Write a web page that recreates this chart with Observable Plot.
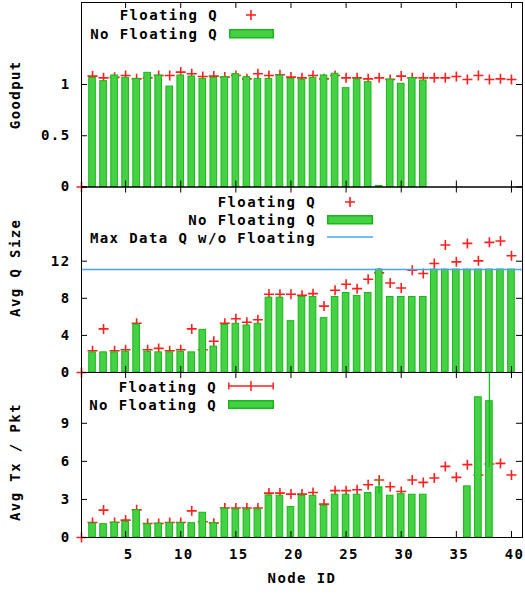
<!DOCTYPE html>
<html><head><meta charset="utf-8">
<script src="https://cdn.jsdelivr.net/npm/d3@7"></script>
<script src="https://cdn.jsdelivr.net/npm/@observablehq/plot@0.6"></script>
<style>
html,body{margin:0;padding:0;background:#fff;}
#chart{position:relative;width:525px;height:594px;overflow:hidden;font-family:"DejaVu Sans Mono",monospace;font-weight:bold;font-size:14px;letter-spacing:1.4px;color:#000;}
#chart svg.p{position:absolute;left:0;}
.lg{position:absolute;white-space:nowrap;line-height:16px;height:16px;text-align:right;}
.sw{position:absolute;overflow:visible;}
</style></head><body><div id="chart"></div>
<script>
// ---------- data ----------
const nodeIds = [1,2,3,4,5,6,7,8,9,10,11,12,13,14,15,16,17,18,19,20,21,22,23,24,25,26,27,28,29,30,31,32,33,34,35,36,37,38,39,40];
const xTicks = [5,10,15,20,25,30,35,40];

// Goodput
const goodputFloating = [0,1.082,1.065,1.07,1.088,1.055,1.065,1.088,1.088,1.121,1.105,1.078,1.082,1.072,1.088,1.055,1.105,1.088,1.095,1.072,1.065,1.088,1.055,1.088,1.065,1.065,1.055,1.065,1.049,1.082,1.065,1.065,1.065,1.065,1.078,1.049,1.088,1.049,1.055,1.049];
const goodputNoFloating = [null,1.065,1.033,1.088,1.065,1.055,1.114,1.088,0.98,1.088,1.078,1.055,1.065,1.072,1.101,1.072,1.055,1.055,1.088,1.055,1.046,1.065,1.088,1.105,0.964,1.049,1.023,0.01,1.049,1.007,1.062,1.039,null,null,null,null,null,null,null,null];
const goodputTicks = [0,0.5,1];

// Avg Q size
const qFloating = [0,2.35,4.7,2.35,2.46,5.31,2.46,2.6,2.35,2.46,4.7,2.46,3.37,5.31,5.79,5.42,5.68,8.43,8.43,8.43,8.32,8.5,7.16,8.86,9.51,9.04,10.05,10.74,9.65,9.11,11.03,10.67,11.75,13.74,11.93,13.92,12.04,14.03,14.17,12.58];
const qNoFloating = [null,2.17,2.17,2.17,2.24,5.17,2.24,2.17,2.17,2.24,2.17,4.6,2.79,5.13,5.25,5.06,5.25,8.07,8.07,5.53,8.14,8.14,5.86,8.14,8.57,8.24,8.57,11.1,8.14,8.14,8.14,8.14,11.1,11.1,11.1,11.1,11.1,11.1,11.1,11.1];
const maxDataQ = [11.1];
const qTicks = [0,4,8,12];

// Avg Tx / Pkt
const txFloating = [0,1.18,2.16,1.18,1.37,2.18,1.1,1.1,1.18,1.18,2.1,1.24,1.13,2.32,2.32,2.32,2.32,3.5,3.5,3.42,3.42,3.55,2.63,3.69,3.69,3.76,4.16,4.53,4.0,3.63,4.53,4.34,4.69,5.6,4.74,5.74,4.92,5.79,5.84,4.92];
const txNoFloating = [0,1.1,1.05,1.18,1.24,2.16,1.05,1.1,1.13,1.13,1.13,1.95,1.13,2.27,2.21,2.21,2.21,3.32,3.29,2.4,3.29,3.29,2.5,3.37,3.37,3.37,3.5,3.95,3.29,3.42,3.37,3.37,null,null,null,4.03,11.05,10.74,null,null];
const txErrNodes = [28,38];
const txErrLow = [3.42,5.53];
const txErrHigh = [4.61,16];
const txTicks = [0,3,6,9];

// ---------- styling ----------
const W = 525, ML = 81, MR = 3, FW = W - ML - MR;
const RED = "#ff1f1f", GFILL = "#45d045", GSTROKE = "#16b916", BLUE = "#4aa3f0";
const FONT = {fontFamily: "DejaVu Sans Mono, monospace", fontSize: "14px", fontWeight: "bold", letterSpacing: "1.4px", background: "transparent", overflow: "visible"};
const plusSym = {draw(ctx){ const a = 5; ctx.moveTo(-a,0); ctx.lineTo(a,0); ctx.moveTo(0,-a); ctx.lineTo(0,a); }};

const rows = (vals) => nodeIds.map((n,i) => ({node: n, v: vals[i]})).filter(d => d.v != null);

function crosses(vals){
  return Plot.dot(rows(vals), {x: "node", y: "v", symbol: plusSym, r: 5, fill: "none", stroke: RED, strokeWidth: 1.6});
}
function bars(vals){
  return Plot.rectY(rows(vals), {x1: d => d.node - 0.3, x2: d => d.node + 0.3, y1: 0, y2: "v", fill: GFILL, stroke: GSTROKE, strokeWidth: 1});
}

function panel({top, height, mt, mb, yDomain, yTicks, title, titleDy, marks, xAxis}){
  const FH = height - mt - mb;
  const svg = Plot.plot({
    width: W, height, marginLeft: ML, marginRight: MR, marginTop: mt, marginBottom: mb,
    x: {domain: [1, 41], axis: null},
    y: {domain: yDomain, axis: null},
    style: FONT,
    marks: [
      ...marks,
      Plot.tickY(yTicks, {y: d => d, insetRight: FW - 6, stroke: "#000"}),
      Plot.tickY(yTicks, {y: d => d, insetLeft: FW - 6, stroke: "#000"}),
      Plot.tickX(xTicks, {x: d => d, insetTop: FH - 6, stroke: "#000"}),
      Plot.tickX(xTicks, {x: d => d, insetBottom: FH - 6, stroke: "#000"}),
      Plot.frame({stroke: "#000", strokeWidth: 1}),
      Plot.axisY(yTicks, {tickSize: 0, tickPadding: 11, label: null, tickFormat: d => String(d), fill: "#000"}),
      Plot.text([title], {text: d => d, frameAnchor: "left", dx: -66, dy: titleDy, rotate: -90, textAnchor: "middle", fill: "#000"}),
      ...(xAxis ? [
        Plot.axisX(xTicks, {tickSize: 0, tickPadding: 12, label: null, dx: 3, fill: "#000"}),
        Plot.text(["Node ID"], {text: d => d, frameAnchor: "bottom", dy: 45, textAnchor: "middle", fill: "#000"})
      ] : [])
    ]
  });
  svg.classList.add("p");
  svg.style.top = top + "px";
  return svg;
}

const chart = document.getElementById("chart");

chart.appendChild(panel({
  top: 0, height: 190, mt: 2, mb: 3.5, yDomain: [0, 1.8], yTicks: goodputTicks,
  title: "Goodput", titleDy: 0,
  marks: [crosses(goodputFloating), bars(goodputNoFloating)]
}));
chart.appendChild(panel({
  top: 180, height: 200, mt: 6.5, mb: 8, yDomain: [0, 20], yTicks: qTicks,
  title: "Avg Q Size", titleDy: -12,
  marks: [crosses(qFloating), bars(qNoFloating), Plot.ruleY(maxDataQ, {stroke: BLUE, strokeWidth: 1.5})]
}));
chart.appendChild(panel({
  top: 366, height: 228, mt: 6, mb: 57, yDomain: [0, 13], yTicks: txTicks,
  title: "Avg Tx / Pkt", titleDy: 7, xAxis: true,
  marks: [
    crosses(txFloating),
    bars(txNoFloating),
    Plot.ruleX(txErrNodes.map((n,i) => ({node: n, lo: txErrLow[i], hi: txErrHigh[i]})), {x: "node", y1: "lo", y2: "hi", stroke: GSTROKE, strokeWidth: 1.3, clip: true})
  ]
}));

// ---------- legends ----------
function label(text, right, cy){
  const d = document.createElement("div");
  d.className = "lg"; d.textContent = text;
  d.style.right = (W - right) + "px"; d.style.top = (cy - 8) + "px";
  chart.appendChild(d);
}
function svgEl(x, y, w, h, inner){
  const s = document.createElementNS("http://www.w3.org/2000/svg", "svg");
  s.setAttribute("class", "sw"); s.setAttribute("width", w); s.setAttribute("height", h);
  s.style.left = x + "px"; s.style.top = y + "px";
  s.innerHTML = inner; chart.appendChild(s);
}
const crossSw = (cx, cy) => svgEl(cx - 6, cy - 6, 12, 12, `<path d="M1,6H11M6,1V11" stroke="${RED}" stroke-width="1.6" fill="none"/>`);
const boxSw = (x1, x2, y1, y2) => svgEl(x1, y1, x2 - x1, y2 - y1, `<rect x="0.75" y="0.75" width="${x2 - x1 - 1.5}" height="${y2 - y1 - 1.5}" fill="${GFILL}" stroke="${GSTROKE}" stroke-width="1.5"/>`);
const lineSw = (x1, x2, y, color) => svgEl(x1, y - 2, x2 - x1, 4, `<path d="M0,2H${x2 - x1}" stroke="${color}" stroke-width="1.5"/>`);
const errSw = (x1, x2, y) => { const w = x2 - x1, m = w / 2; svgEl(x1, y - 6, w, 12, `<path d="M0.8,6H${w - 0.8}M0.8,2.5V9.5M${w - 0.8},2.5V9.5M${m},1V11" stroke="${RED}" stroke-width="1.5" fill="none"/>`); };

label("Floating Q", 218, 15); crossSw(251, 15);
label("No Floating Q", 218, 34); boxSw(229, 274, 29, 38.5);

label("Floating Q", 316, 202); crossSw(350, 202);
label("No Floating Q", 316, 219.5); boxSw(327, 373, 214.5, 224);
label("Max Data Q w/o Floating", 316, 238); lineSw(327, 373, 237, BLUE);

label("Floating Q", 217, 387); errSw(228, 274, 385.5);
label("No Floating Q", 217, 405); boxSw(228, 274, 400, 409);
</script></body></html>
